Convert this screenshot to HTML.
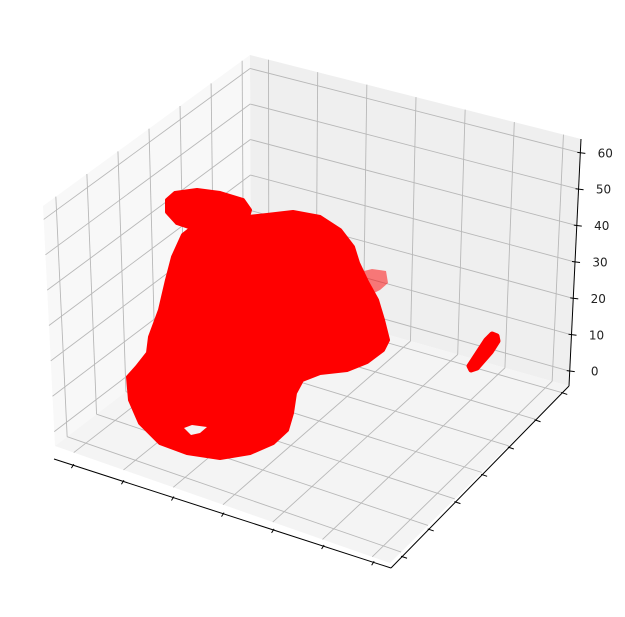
<!DOCTYPE html>
<html><head><meta charset="utf-8"><style>
html,body{margin:0;padding:0;background:#fff;}
svg{display:block;}
</style></head><body>
<svg id="chart" width="625" height="617" viewBox="0 0 625 617" xmlns="http://www.w3.org/2000/svg">
<g id="panes"></g>
<g id="grid"></g>
<g id="axes"></g>
<g id="blob">
<path fill="#ff0000" stroke="#ff0000" stroke-width="4" stroke-linejoin="round"
 d="M167,200 L175,193 L197,190 L220,193 L243,200 L250,210 L248,217 L267,215 L293,212 L320,217 L340,230 L353,247 L358,263 L367,282 L377,300 L383,320 L388,340 L383,350 L367,362 L347,370 L320,373 L302,380 L295,393 L292,413 L287,430 L273,443 L250,453 L220,458 L187,453 L160,443 L140,423 L130,400 L128,377 L137,367 L148,353 L150,337 L160,310 L167,280 L173,257 L183,235 L192,228 L177,223 L167,212 Z"/>
<path fill="rgba(255,0,0,0.5)" d="M360,272 L372,269 L386,271 L388,283 L380,290 L368,296 L362,290 Z"/>
<path fill="#f4f4f4" d="M184,428 L192,425 L207,427 L200,433 L191,435 Z"/>
<path fill="#ff0000" stroke="#ff0000" stroke-width="5" stroke-linejoin="round" d="M469,366 L486,340 L492,334 L497,336 L498,341 L491,352 L477,368 L471,370 Z"/>
</g>
<g id="labels"></g>
</svg>
<script>
// ---- data ----
const xTicks = [0, 1, 2, 3, 4, 5, 6];
const yTicks = [0, 1, 2, 3, 4, 5, 6];
const zTicks = [0, 10, 20, 30, 40, 50, 60];
const zTickLabels = ["0", "10", "20", "30", "40", "50", "60"];

const NS = "http://www.w3.org/2000/svg";
const L = [55,446], F = [390,563], R = [569,386], B = [251,296];
const TL = [43,206], TB = [250,55], TR = [581,139];
const AX0 = [54,459], AX1 = [391,568];
function lerp(a,b,t){return [a[0]+(b[0]-a[0])*t, a[1]+(b[1]-a[1])*t];}
function xFrac(v){return 0.056 + (v-xTicks[0])*0.1485;}
function yFrac(v){return 0.062 + (v-yTicks[0])*0.15;}
function zFrac(v){return 0.06 + (v-zTicks[0])/(zTicks[zTicks.length-1]-zTicks[0])*0.884;}
function line(g,a,b,stroke,w,name){
  const l=document.createElementNS(NS,'line');
  l.setAttribute('x1',a[0]);l.setAttribute('y1',a[1]);l.setAttribute('x2',b[0]);l.setAttribute('y2',b[1]);
  l.setAttribute('stroke',stroke);l.setAttribute('stroke-width',w);
  
  
  g.appendChild(l);
}
function poly(g,pts,fill,name){
  const p=document.createElementNS(NS,'polygon');
  p.setAttribute('points',pts.map(q=>q.join(',')).join(' '));
  p.setAttribute('fill',fill);
  
  
  g.appendChild(p);
}
const panes=document.getElementById('panes');
poly(panes,[L,B,TB,TL],'#f8f8f8','left-pane');
poly(panes,[B,R,TR,TB],'#efefef','right-pane');
poly(panes,[L,F,R,B],'#f4f4f4','floor-pane');

const grid=document.getElementById('grid');
const gc='#b8b8b8', gw=0.9;
xTicks.forEach(v=>{
  const t=xFrac(v);
  const b=lerp(B,R,t);
  line(grid,lerp(L,F,t),b,gc,gw,'x-grid-floor');
  line(grid,b,lerp(TB,TR,t),gc,gw,'x-grid-wall');
});
yTicks.forEach(v=>{
  const t=yFrac(v);
  const b=lerp(L,B,t);
  line(grid,lerp(F,R,t),b,gc,gw,'y-grid-floor');
  line(grid,b,lerp(TL,TB,t),gc,gw,'y-grid-wall');
});
zTicks.forEach(v=>{
  const t=zFrac(v);
  const a=lerp(L,TL,t), b=lerp(B,TB,t), c=lerp(R,TR,t);
  line(grid,a,b,gc,gw,'z-grid-left');
  line(grid,b,c,gc,gw,'z-grid-right');
});

const axes=document.getElementById('axes');
line(axes,AX0,AX1,'#000',1,'x-axis-line');
line(axes,AX1,R,'#000',1,'y-axis-line');
line(axes,R,TR,'#000',1,'z-axis-line');
xTicks.forEach(v=>{
  const p=lerp(AX0,AX1,xFrac(v));
  line(axes,[p[0]-1.5,p[1]+3],[p[0]+1,p[1]-1],'#000',1,'x-tick');
});
yTicks.forEach(v=>{
  const p=lerp(AX1,R,yFrac(v));
  line(axes,[p[0]-1,p[1]-0.5],[p[0]+5,p[1]+1.5],'#000',1,'y-tick');
});
const labels=document.getElementById('labels');
zTicks.forEach((v,i)=>{
  const p=lerp(R,TR,zFrac(v));
  line(axes,[p[0]-3,p[1]-0.5],[p[0]+5,p[1]+0.5],'#000',1,'z-tick');
  const tx=document.createElementNS(NS,'text');
  tx.setAttribute('x',p[0]+25);tx.setAttribute('y',p[1]+4.5);
  tx.setAttribute('text-anchor','middle');
  tx.setAttribute('font-family','DejaVu Sans, Liberation Sans, sans-serif');
  tx.setAttribute('font-size','12');tx.setAttribute('fill','#222');
  tx.textContent=zTickLabels[i];
  
  
  labels.appendChild(tx);
});
</script>
</body></html>
